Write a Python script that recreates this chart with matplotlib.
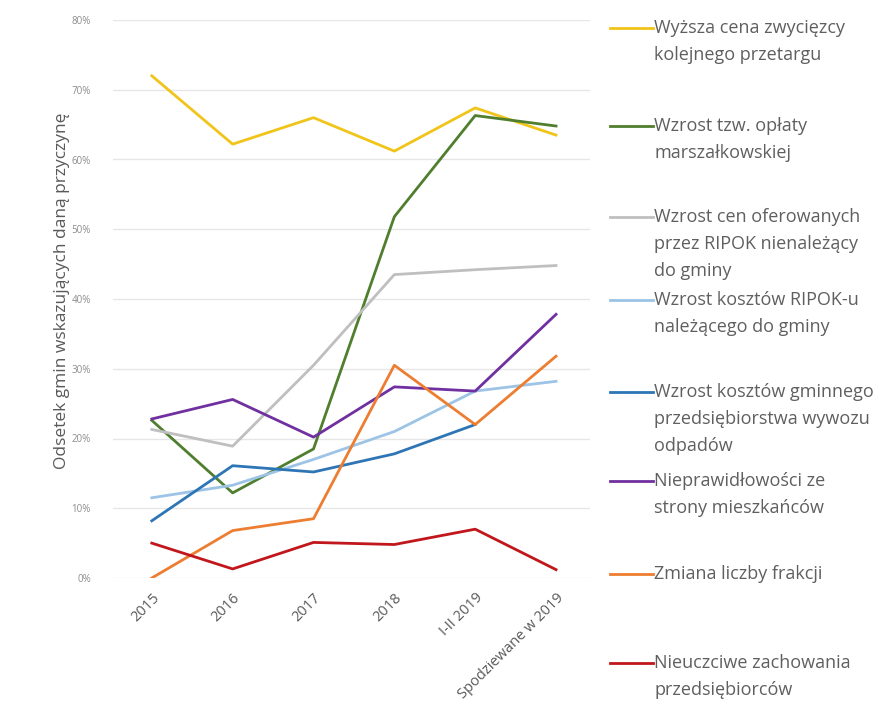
import numpy as np
import matplotlib
matplotlib.use("Agg")
import matplotlib.pyplot as plt
from matplotlib.lines import Line2D

plt.rcParams['font.family'] = ['Open Sans', 'DejaVu Sans']

categories = ["2015", "2016", "2017", "2018", "I-II 2019", "Spodziewane w 2019"]

labels = [
    ["Wyższa cena zwycięzcy", "kolejnego przetargu"],
    ["Wzrost tzw. opłaty", "marszałkowskiej"],
    ["Wzrost cen oferowanych", "przez RIPOK nienależący", "do gminy"],
    ["Wzrost kosztów RIPOK-u", "należącego do gminy"],
    ["Wzrost kosztów gminnego", "przedsiębiorstwa wywozu", "odpadów"],
    ["Nieprawidłowości ze", "strony mieszkańców"],
    ["Zmiana liczby frakcji"],
    ["Nieuczciwe zachowania", "przedsiębiorców"],
]

wyzsza_cena = [72.0, 62.2, 66.0, 61.2, 67.4, 63.5]
oplata_marszalkowska = [22.6, 12.2, 18.5, 51.8, 66.3, 64.8]
ceny_ripok_obcy = [21.3, 18.9, 30.5, 43.5, 44.2, 44.8]
koszty_ripok_gminny = [11.5, 13.3, 17.0, 21.0, 26.8, 28.2]
koszty_przedsiebiorstwa = [8.2, 16.1, 15.2, 17.8, 22.0, np.nan]
nieprawidlowosci = [22.8, 25.6, 20.2, 27.4, 26.8, 37.8]
liczba_frakcji = [0.0, 6.8, 8.5, 30.5, 22.0, 31.8]
nieuczciwe = [5.0, 1.3, 5.1, 4.8, 7.0, 1.2]

series = [wyzsza_cena, oplata_marszalkowska, ceny_ripok_obcy, koszty_ripok_gminny,
          koszty_przedsiebiorstwa, nieprawidlowosci, liczba_frakcji, nieuczciwe]
colors = ["#f0c419", "#4f7f2e", "#bfbfbf", "#9dc3e6", "#2e75b6", "#7030a0",
          "#ed7d31", "#c0161c"]
# vertical position (figure pixels from top) of each legend entry's first line
legend_y = [28, 126, 217, 300, 392, 481, 574, 663]
LINE_STEP = 27

W, H = 884, 717
fig = plt.figure(figsize=(W / 100, H / 100), dpi=100)
fig.patch.set_facecolor("white")
ax = fig.add_axes([113 / W, 1 - 578 / H, (590 - 113) / W, (578 - 20) / H])

x = np.arange(len(categories))
for vals, col in zip(series, colors):
    ax.plot(x, vals, color=col, lw=2.0, solid_joinstyle="round")

ax.set_xlim(-0.48, 5.42)
ax.set_ylim(0, 80)
ax.set_yticks(np.arange(0, 81, 10))
ax.set_yticklabels([f"{v}%" for v in range(0, 81, 10)], fontsize=7, color="#8c8c8c")
ax.set_xticks(x)
ax.set_xticklabels(categories, rotation=45, ha="right", rotation_mode="anchor",
                   fontsize=10.5, color="#595959")
ax.tick_params(axis="both", length=0)
ax.tick_params(axis="y", pad=16)
ax.tick_params(axis="x", pad=9)
ax.grid(axis="y", color="#e6e6e6", lw=1)
ax.set_axisbelow(True)
for s in ax.spines.values():
    s.set_visible(False)
ax.set_ylabel("Odsetek gmin wskazujących daną przyczynę", fontsize=12.5,
              color="#595959")
ax.yaxis.set_label_coords(-0.09, 0.515)

# legend drawn as line handles with wrapped captions on the right
for lines, col, yp in zip(labels, colors, legend_y):
    yf = 1 - yp / H
    fig.add_artist(Line2D([610 / W, 653 / W], [yf, yf], color=col, lw=2.0,
                          transform=fig.transFigure))
    for i, txt in enumerate(lines):
        fig.text(654 / W, 1 - (yp + i * LINE_STEP) / H, txt, fontsize=13,
                 color="#5f5f5f", va="center", ha="left")

fig.savefig("out.png", dpi=100, facecolor="white")
